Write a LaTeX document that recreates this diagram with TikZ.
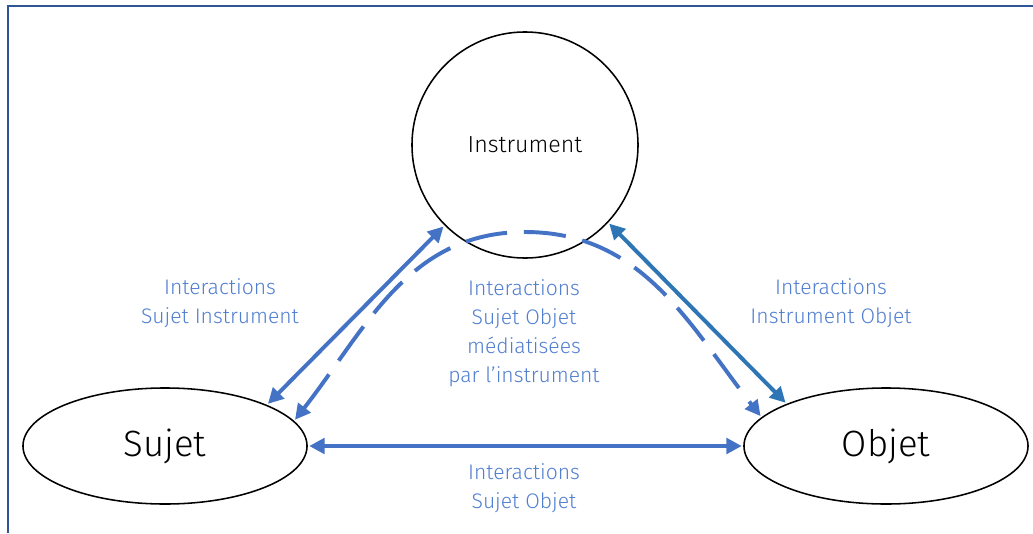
\documentclass[tikz,border=0pt]{standalone}
\usepackage{fontspec}
\setmainfont{Fira Sans}[UprightFont={* Light}]
\usetikzlibrary{shapes.geometric, arrows.meta}

\definecolor{framecol}{RGB}{47,85,151}
\definecolor{arrowcol}{RGB}{68,114,196}
\definecolor{arrowdark}{RGB}{46,117,182}
\definecolor{labelcol}{RGB}{80,126,208}

\tikzset{
  pole/.style={draw, line width=1.1pt, inner sep=0pt},
  link/.style={line width=2.8pt, arrowcol, {Triangle[length=11pt,width=11pt]}-{Triangle[length=11pt,width=11pt]}, shorten <=1pt, shorten >=1pt},
  linklabel/.style={labelcol, align=center, font=\fontsize{15}{20.6}\selectfont}
}

\begin{document}
\begin{tikzpicture}[x=0.025cm, y=-0.025cm]
  \useasboundingbox (0,0) rectangle (1033,533);
  \draw[framecol, line width=2pt] (8,533) -- (8,6) -- (1033,6);

  % the three poles
  \node[pole, circle, minimum size=5.65cm, font=\fontsize{16.5}{20}\selectfont] (instr) at (525,145) {Instrument};
  \node[pole, ellipse, minimum width=7.1cm, minimum height=2.9cm, font=\fontsize{26}{30}\selectfont] (sujet) at (165,446) {Sujet};
  \node[pole, ellipse, minimum width=7.1cm, minimum height=2.9cm, font=\fontsize{26}{30}\selectfont] (objet) at (886,446) {Objet};
  \coordinate (top) at (525,232);

  % interactions
  \draw[link] (sujet.22) -- (instr.225);
  \draw[link, arrowdark] (instr.317) -- (objet.157);
  \draw[link] (sujet.east) -- (objet.west);
  \draw[link, dash pattern=on 30pt off 12pt] (sujet.11) to[out=52,in=180] (top) to[out=0,in=128] (objet.167);

  \node[linklabel] (lab1) at (220,303) {Interactions\\Sujet Instrument};
  \node[linklabel] (lab2) at (831,303) {Interactions\\Instrument Objet};
  \node[linklabel] (lab3) at (524,333) {Interactions\\Sujet Objet\\médiatisées\\par l'instrument};
  \node[linklabel] (lab4) at (524,488) {Interactions\\Sujet Objet};
\end{tikzpicture}
\end{document}
